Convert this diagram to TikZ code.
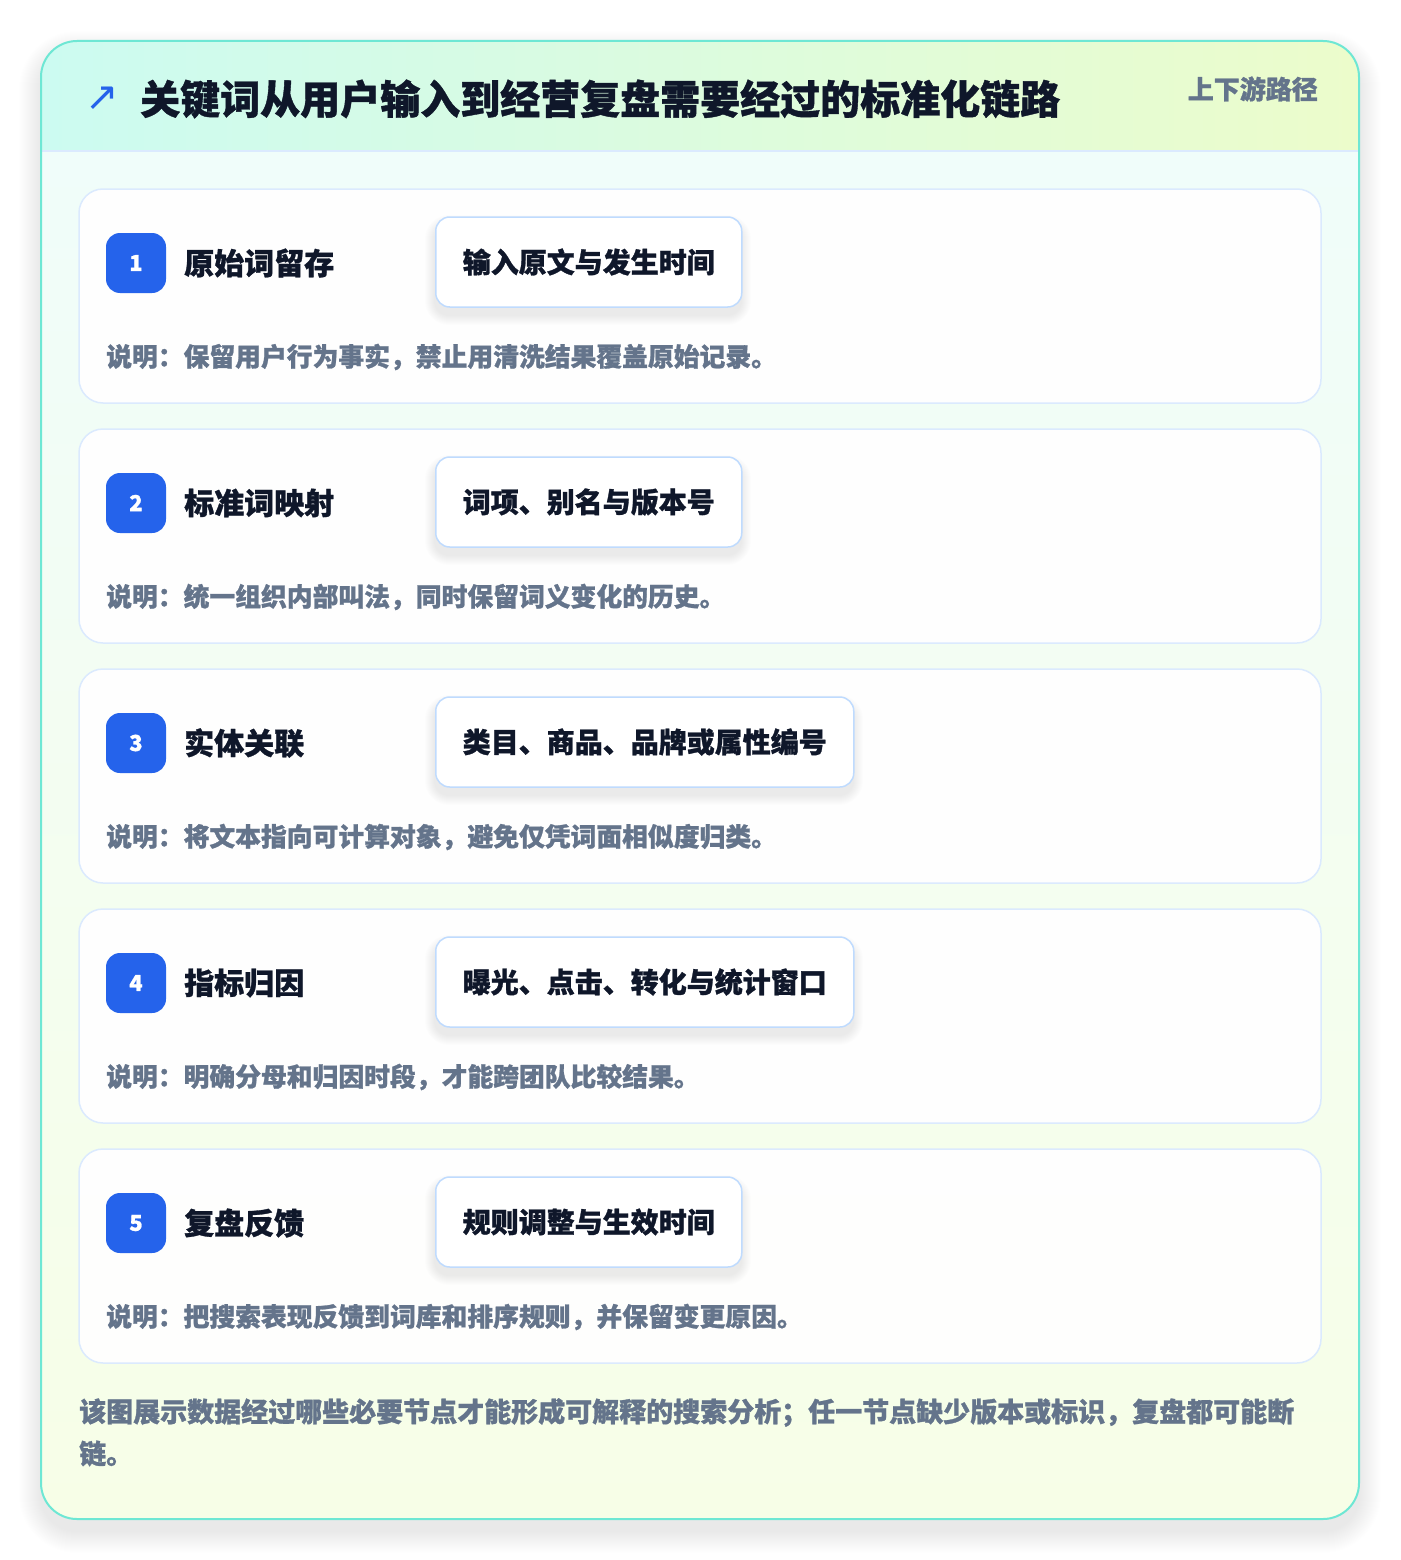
\documentclass[tikz,border=0pt]{standalone}
\usepackage{fontspec}
\setmainfont{Noto Sans CJK SC}[BoldFeatures={FakeBold=1}]
\newfontfamily\arrowfont{DejaVu Sans}
\definecolor{FrameClr}{HTML}{6EE7D4}
\definecolor{HeadLeft}{HTML}{CCFBF1}
\definecolor{HeadRight}{HTML}{ECFCCB}
\definecolor{BodyTop}{HTML}{F0FDFA}
\definecolor{BodyBot}{HTML}{F7FEE7}
\definecolor{CardLine}{HTML}{DBEAFE}
\definecolor{TagLine}{HTML}{BFDBFE}
\definecolor{BadgeClr}{HTML}{2563EB}
\definecolor{InkClr}{HTML}{0F172A}
\definecolor{MutedClr}{HTML}{64748B}

\begin{document}
\begin{tikzpicture}[x=1pt,y=-1pt,
  cardbox/.style={draw=CardLine,line width=1.5pt,fill=white,fill opacity=.95,rounded corners=24pt},
  badgebox/.style={fill=BadgeClr,rounded corners=14pt,minimum width=60pt,minimum height=60pt,
    inner sep=0pt,text=white,font=\fontsize{22}{26}\selectfont\bfseries},
  titletext/.style={anchor=west,inner sep=0pt,text=InkClr,font=\fontsize{30}{36}\selectfont\bfseries},
  tagbox/.style={anchor=west,draw=TagLine,line width=1.5pt,fill=white,rounded corners=14pt,
    inner xsep=27pt,minimum height=90pt,text=InkClr,font=\fontsize{28}{34}\selectfont\bfseries},
  notetext/.style={anchor=west,inner sep=0pt,text=MutedClr,font=\fontsize{25.8}{30}\selectfont\bfseries}]

\fill[white] (0,0) rectangle (1400,1560);
\useasboundingbox (0,0) rectangle (1400,1560);

% soft shadow of the frame
\foreach \k in {1,...,22}
  \fill[black,opacity=.005,rounded corners=36+\k] (41-\k,41-\k+12) rectangle (1359+\k,1519+\k+12);

% outer frame
\begin{scope}
\clip[rounded corners=36pt] (41,41) rectangle (1359,1519);
\shade[top color=BodyTop,bottom color=BodyBot] (41,151) rectangle (1359,1519);
\shade[left color=HeadLeft,right color=HeadRight] (41,41) rectangle (1359,151);
\end{scope}
\draw[CardLine,line width=1.5pt] (41,151) -- (1359,151);
\draw[FrameClr,line width=2pt,rounded corners=36pt] (41,41) rectangle (1359,1519);

% header
\node[anchor=center,inner sep=0pt,text=BadgeClr,font=\arrowfont\fontsize{40}{44}\selectfont] (arrow) at (102,99) {↗};
\node[anchor=west,inner sep=0pt,text=InkClr,font=\fontsize{40}{48}\selectfont\bfseries] (head) at (140,99)
  {关键词从用户输入到经营复盘需要经过的标准化链路};
\node[anchor=east,inner sep=0pt,text=MutedClr,font=\fontsize{26}{30}\selectfont\bfseries] (side) at (1318,89)
  {上下游路径};

% steps
\foreach \n/\ttl/\tag/\w/\note in {
  1/原始词留存/输入原文与发生时间/306/说明：保留用户行为事实，禁止用清洗结果覆盖原始记录。,
  2/标准词映射/词项、别名与版本号/306/说明：统一组织内部叫法，同时保留词义变化的历史。,
  3/实体关联/类目、商品、品牌或属性编号/418/说明：将文本指向可计算对象，避免仅凭词面相似度归类。,
  4/指标归因/曝光、点击、转化与统计窗口/418/说明：明确分母和归因时段，才能跨团队比较结果。,
  5/复盘反馈/规则调整与生效时间/306/说明：把搜索表现反馈到词库和排序规则，并保留变更原因。}
{
  \pgfmathsetmacro{\top}{189+(\n-1)*240}
  \draw[cardbox] (79,\top) rectangle (1321,\top+214);
  \node[badgebox] (badge\n) at (136,\top+74) {\n};
  \node[titletext] (title\n) at (184,\top+74) {\ttl};
  \foreach \k in {1,...,10}
    \fill[black,opacity=.008,rounded corners=14+\k] (435-\k,\top+28-\k+8) rectangle (435+\w+\k,\top+118+\k+8);
  \node[tagbox] (tag\n) at (435,\top+73) {\tag};
  \node[notetext] (note\n) at (106,\top+168) {\note};
}

% footer
\node[anchor=north west,inner sep=0pt,align=left,text=MutedClr,font=\fontsize{27}{42}\selectfont\bfseries] (foot) at (79,1398)
  {该图展示数据经过哪些必要节点才能形成可解释的搜索分析；任一节点缺少版本或标识，复盘都可能断\\链。};

\end{tikzpicture}
\end{document}
